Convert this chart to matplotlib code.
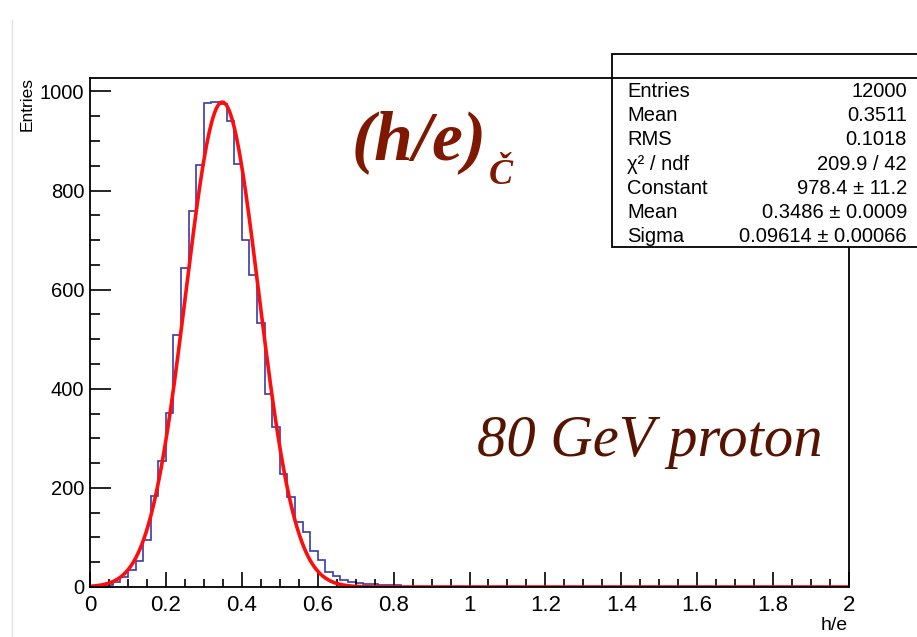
import numpy as np
import matplotlib
matplotlib.use("Agg")
import matplotlib.pyplot as plt
from matplotlib.patches import Rectangle
from matplotlib.lines import Line2D

# histogram h/e, 0.02 wide bins from 0 to 2
bin_edges = np.linspace(0.0, 2.0, 101)
counts_low = [1, 2, 5, 11, 20, 34, 53, 95, 183, 255,
              352, 508, 643, 759, 851, 977, 979, 975, 940, 853,
              700, 629, 533, 390, 322, 229, 182, 132, 111, 72,
              54, 31, 22, 14, 11, 9, 7, 6, 5, 4, 4]
counts = np.zeros(100)
counts[:len(counts_low)] = counts_low

# gaus fit results
fit_const = 978.4
fit_mean = 0.3486
fit_sigma = 0.09614

stat_names = ["Entries", "Mean", "RMS", "\u03c7\u00b2 / ndf", "Constant", "Mean", "Sigma"]
stat_values = ["12000", "0.3511", "0.1018", "209.9 / 42", "978.4 \u00b1 11.2",
               "0.3486 \u00b1 0.0009", "0.09614 \u00b1 0.00066"]

W, H = 917, 637
def fx(x):
    return x / W
def fy(y):
    return 1 - y / H

fig = plt.figure(figsize=(W / 100, H / 100), dpi=100, facecolor="white")
ax = fig.add_axes([fx(90), fy(587), fx(849) - fx(90), fy(78) - fy(587)])

ax.stairs(counts, bin_edges, color="#3a3aaa", linewidth=1.2)
xf = np.linspace(0, 2, 1500)
ax.plot(xf, fit_const * np.exp(-0.5 * ((xf - fit_mean) / fit_sigma) ** 2),
        color="#ff0d0d", linewidth=2.6)

ax.set_xlim(0, 2)
ax.set_ylim(0, 1027)
ax.set_xticks(np.arange(0, 2.01, 0.2))
ax.set_xticklabels(["0", "0.2", "0.4", "0.6", "0.8", "1", "1.2", "1.4", "1.6", "1.8", "2"])
ax.set_xticks(np.arange(0, 2.001, 0.05), minor=True)
ax.set_yticks(np.arange(0, 1001, 200))
ax.set_yticks(np.arange(0, 1001, 50), minor=True)
ax.tick_params(axis="both", which="both", direction="in", top=False, right=False,
               width=1.2, colors="black")
ax.tick_params(axis="x", which="major", length=11, pad=6, labelsize=16)
ax.tick_params(axis="x", which="minor", length=5.5)
ax.tick_params(axis="y", which="major", length=15, pad=4, labelsize=14.5)
ax.tick_params(axis="y", which="minor", length=7.5)
for lab in ax.get_xticklabels() + ax.get_yticklabels():
    lab.set_family("Liberation Sans")
for sp in ax.spines.values():
    sp.set_linewidth(1.3)

fig.text(fx(27), fy(77), "Entries", rotation=90, ha="center", va="top",
         fontsize=12.5, family="Liberation Sans")
fig.text(fx(848), fy(634), "h/e", ha="right", va="bottom",
         fontsize=14, family="Liberation Sans")

# stats box
fig.patches.append(Rectangle((fx(612), fy(247)), fx(925) - fx(612), fy(54) - fy(247),
                             transform=fig.transFigure, facecolor="white",
                             edgecolor="black", linewidth=1.3, zorder=5))
fig.lines.append(Line2D([fx(612), fx(925)], [fy(78), fy(78)], transform=fig.transFigure,
                        color="black", linewidth=1.3, zorder=6))
for i, (nm, val) in enumerate(zip(stat_names, stat_values)):
    yy = fy(91.5 + 24.2 * i)
    fig.text(fx(627), yy, nm, ha="left", va="center", fontsize=14.5,
             family="Liberation Sans", zorder=7)
    fig.text(fx(907), yy, val, ha="right", va="center", fontsize=14.5,
             family="Liberation Sans", zorder=7)

# annotations
fig.text(fx(352), fy(142), "(h/e)", ha="left", va="center", fontsize=50,
         family="Liberation Serif", style="italic", weight="bold", color="#7e1800")
fig.text(fx(489), fy(175), "\u010c", ha="left", va="center", fontsize=26,
         family="Liberation Serif", style="italic", weight="bold", color="#7e1800")
fig.text(fx(650), fy(442), "80 GeV proton", ha="center", va="center", fontsize=42.2,
         family="Liberation Serif", style="italic", color="#561400")

# faint slide border
fig.lines.append(Line2D([fx(12), fx(12)], [0, fy(20)], transform=fig.transFigure,
                        color="#e2e2e2", linewidth=1.0))

fig.savefig("out.png", dpi=100, facecolor="white")
